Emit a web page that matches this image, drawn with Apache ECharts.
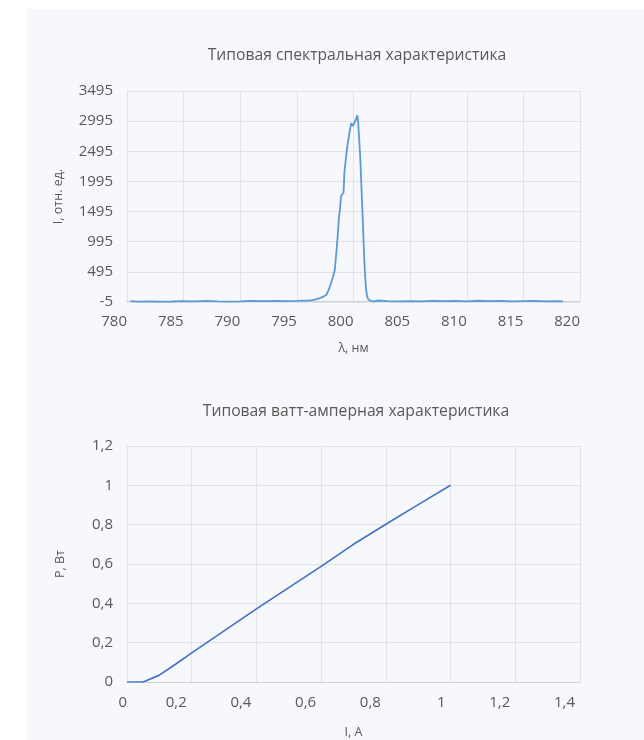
<!DOCTYPE html>
<html>
<head>
<meta charset="utf-8">
<script src="https://cdn.jsdelivr.net/npm/echarts@6/dist/echarts.min.js"></script>
<style>
html,body{margin:0;padding:0;background:#fff;}
#panel{position:absolute;left:27px;top:9px;width:617px;height:731px;background:#f7f8fc;}
#chart{position:absolute;left:0;top:0;width:644px;height:740px;}
</style>
</head>
<body>
<div id="panel"></div>
<div id="chart"></div>
<script>
// Spectrum (top chart)
const spectrumTitle = 'Типовая спектральная характеристика';
const wavelength = [780.3,781,782,783,784,785,786,787,788,789,790,791,792,793,794,795,795.5,796,796.4,796.9,797.3,797.6,797.85,798.05,798.2,798.35,798.48,798.62,798.72,798.83,798.9,799.05,799.12,799.2,799.36,799.51,799.66,799.8,799.86,799.96,800.1,800.25,800.33,800.4,800.48,800.6,800.7,800.8,800.9,800.98,801.1,801.2,801.3,801.5,801.8,802.2,803,804,805,806,807,808,809,810,811,812,813,814,815,816,817,818,818.5];
const intensity = [8,2,5,0,3,10,4,12,6,2,5,15,8,12,10,14,18,20,25,50,80,110,215,330,415,530,800,1130,1400,1590,1750,1780,1810,2150,2430,2650,2820,2960,2990,2915,2940,3040,3095,3010,2760,2380,1900,1450,950,580,220,90,40,15,5,20,8,4,10,6,14,9,12,5,16,8,12,6,10,14,7,9,5];
const spectrumXTicks = {min:780, max:820, interval:5};
const spectrumYTicks = {min:-5, max:3495, interval:500};

// L-I curve (bottom chart)
const liTitle = 'Типовая ватт-амперная характеристика';
const current = [0,0.05,0.1,0.15,0.2,0.3,0.4,0.5,0.6,0.7,0.8,0.9,1.0];
const power = [0,0,0.035,0.09,0.148,0.26,0.372,0.48,0.588,0.7,0.802,0.902,1.0];
const liXTicks = {min:0, max:1.4, interval:0.2};
const liYTicks = {min:0, max:1.2, interval:0.2};

const FONT = '"Open Sans", sans-serif';
const TXT = '#595959';
const GRID = '#e1e3e8';
const AXIS = '#cfd1d6';
const comma = v => String(Math.round(v*10)/10).replace('.', ',');
const liXFmt = v => (v === 0 ? '{z|0}' : '{n|' + comma(v) + '}');

const chart = echarts.init(document.getElementById('chart'), null, {renderer:'canvas'});
function xAxisCfg(gi, t, name, fmt, gap, margin, rich){
  return {
    type:'value', gridIndex:gi, min:t.min, max:t.max, interval:t.interval,
    name:name, nameLocation:'middle', nameGap:gap,
    nameTextStyle:{color:TXT, fontFamily:FONT, fontSize:12.5},
    axisLine:{show:true, lineStyle:{color:AXIS, width:1}},
    axisTick:{show:false},
    splitLine:{show:true, lineStyle:{color:GRID, width:1}},
    axisLabel:{color:TXT, fontFamily:FONT, fontSize:15, align:'right', margin:margin, formatter:fmt, rich:rich}
  };
}
function yAxisCfg(gi, t, name, fmt, gap){
  return {
    type:'value', gridIndex:gi, min:t.min, max:t.max, interval:t.interval,
    name:name, nameLocation:'middle', nameGap:gap, nameRotate:90,
    nameTextStyle:{color:TXT, fontFamily:FONT, fontSize:12.5},
    axisLine:{show:false},
    axisTick:{show:false},
    splitLine:{show:true, lineStyle:{color:GRID, width:1}},
    axisLabel:{color:TXT, fontFamily:FONT, fontSize:15, margin:14, padding:[5,0,0,0], formatter:fmt}
  };
}
const liRich = {
  z:{color:TXT, fontFamily:FONT, fontSize:15},
  n:{color:TXT, fontFamily:FONT, fontSize:15, padding:[0,5,0,0]}
};
chart.setOption({
  animation:false,
  title:[
    {text:spectrumTitle, left:352, top:43, textAlign:'center',
     textStyle:{color:TXT, fontFamily:FONT, fontSize:15.7, fontWeight:'normal'}},
    {text:liTitle, left:351, top:399, textAlign:'center',
     textStyle:{color:TXT, fontFamily:FONT, fontSize:15.7, fontWeight:'normal'}}
  ],
  grid:[
    {left:127, top:91, width:453, height:211},
    {left:127, top:446, width:453, height:237}
  ],
  xAxis:[
    xAxisCfg(0, spectrumXTicks, 'λ, нм', v => String(v), 40, 12, undefined),
    xAxisCfg(1, liXTicks, 'I, A', liXFmt, 44, 13, liRich)
  ],
  yAxis:[
    yAxisCfg(0, spectrumYTicks, 'I, отн. ед.', v => String(v), 62),
    yAxisCfg(1, liYTicks, 'P, Вт', comma, 60)
  ],
  series:[
    {type:'line', xAxisIndex:0, yAxisIndex:0, showSymbol:false, symbol:'none',
     data:wavelength.map((x,i)=>[x,intensity[i]]),
     lineStyle:{color:'#5b9bd5', width:1.8}},
    {type:'line', xAxisIndex:1, yAxisIndex:1, showSymbol:false, symbol:'none',
     data:current.map((x,i)=>[x,power[i]]),
     lineStyle:{color:'#4472c4', width:1.7}}
  ]
});
</script>
</body>
</html>
